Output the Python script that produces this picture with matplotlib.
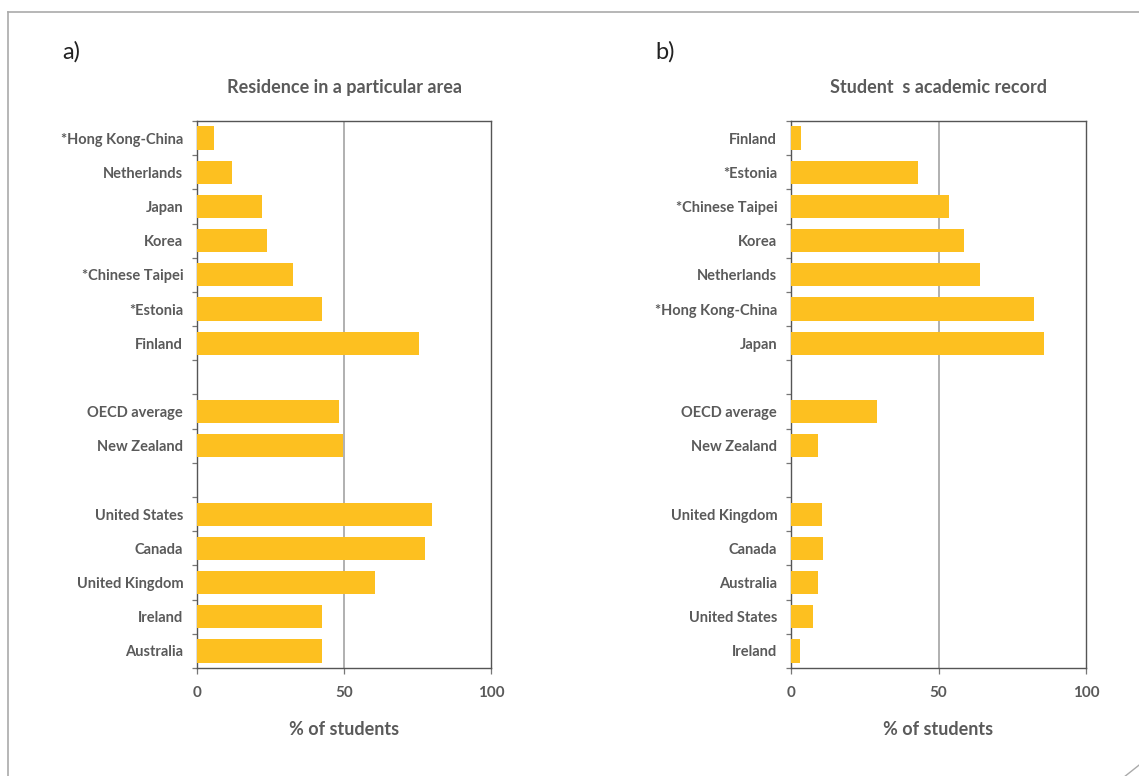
import matplotlib.pyplot as plt
from matplotlib.lines import Line2D

# panel a) residence in a particular area (None = empty spacer row)
residence_labels = [
    "*Hong Kong-China", "Netherlands", "Japan", "Korea", "*Chinese Taipei",
    "*Estonia", "Finland", "", "OECD average", "New Zealand", "",
    "United States", "Canada", "United Kingdom", "Ireland", "Australia",
]
residence_values = [
    5.6, 11.8, 22.0, 23.7, 32.6, 42.5, 75.4, None, 48.2, 49.6, None,
    79.9, 77.5, 60.5, 42.5, 42.5,
]

# panel b) student's academic record
academic_labels = [
    "Finland", "*Estonia", "*Chinese Taipei", "Korea", "Netherlands",
    "*Hong Kong-China", "Japan", "", "OECD average", "New Zealand", "",
    "United Kingdom", "Canada", "Australia", "United States", "Ireland",
]
academic_values = [
    3.3, 43.2, 53.4, 58.5, 64.2, 82.3, 85.7, None, 29.0, 9.0, None,
    10.4, 10.7, 9.1, 7.3, 2.9,
]

x_ticks = [0, 50, 100]

BAR_COLOR = "#FDC020"
TEXT_COLOR = "#5a5a5a"
FRAME_COLOR = "#555555"
FONT = ["Lato", "DejaVu Sans"]


def draw_panel(ax, labels, values, title):
    rows = [i for i, v in enumerate(values) if v is not None]
    ax.barh(rows, [values[i] for i in rows], height=0.68, color=BAR_COLOR, zorder=3)

    ax.axvline(50, color="#aaaaaa", linewidth=1.3, zorder=1)
    ax.set_xlim(0, 100)
    ax.set_ylim(len(values) - 0.5, -0.5)

    ax.set_yticks(rows)
    ax.set_yticklabels([labels[i] for i in rows], family=FONT, fontweight="bold",
                       fontsize=10.5, color=TEXT_COLOR)
    ax.set_yticks([i - 0.5 for i in range(len(values) + 1)], minor=True)
    ax.tick_params(axis="y", which="major", length=0, pad=10)
    ax.tick_params(axis="y", which="minor", length=3.5, color="#777777", width=0.9)

    ax.set_xticks(x_ticks)
    ax.set_xticklabels([str(t) for t in x_ticks], family=FONT, fontweight="bold",
                       fontsize=11, color=TEXT_COLOR)
    ax.tick_params(axis="x", length=4, color="#777777", width=0.9, pad=9)

    for spine in ax.spines.values():
        spine.set_color(FRAME_COLOR)
        spine.set_linewidth(1.0)

    ax.set_title(title, family=FONT, fontweight="bold", fontsize=13,
                 color=TEXT_COLOR, pad=20)
    ax.set_xlabel("% of students", family=FONT, fontweight="bold", fontsize=13,
                  color=TEXT_COLOR, labelpad=15)


fig = plt.figure(figsize=(11.39, 7.76), dpi=100)

ax_a = fig.add_axes([0.1730, 0.1392, 0.2581, 0.7049])
ax_b = fig.add_axes([0.6945, 0.1392, 0.2590, 0.7049])

draw_panel(ax_a, residence_labels, residence_values, "Residence in a particular area")
draw_panel(ax_b, academic_labels, academic_values, "Student  s academic record")

fig.text(0.055, 0.933, "a)", family=FONT, fontweight="normal", fontsize=17,
         color="#222222", va="center")
fig.text(0.575, 0.933, "b)", family=FONT, fontweight="normal", fontsize=17,
         color="#222222", va="center")

# page frame: left and top edges, plus the folded corner mark
fig.add_artist(Line2D([0.007, 0.007], [0.0, 0.985], transform=fig.transFigure,
                      color="#aaaaaa", linewidth=1.2))
fig.add_artist(Line2D([0.007, 1.0], [0.985, 0.985], transform=fig.transFigure,
                      color="#aaaaaa", linewidth=1.2))
fig.add_artist(Line2D([0.988, 1.0], [0.0, 0.014], transform=fig.transFigure,
                      color="#aaaaaa", linewidth=1.0))

fig.savefig("out.png", dpi=100)
